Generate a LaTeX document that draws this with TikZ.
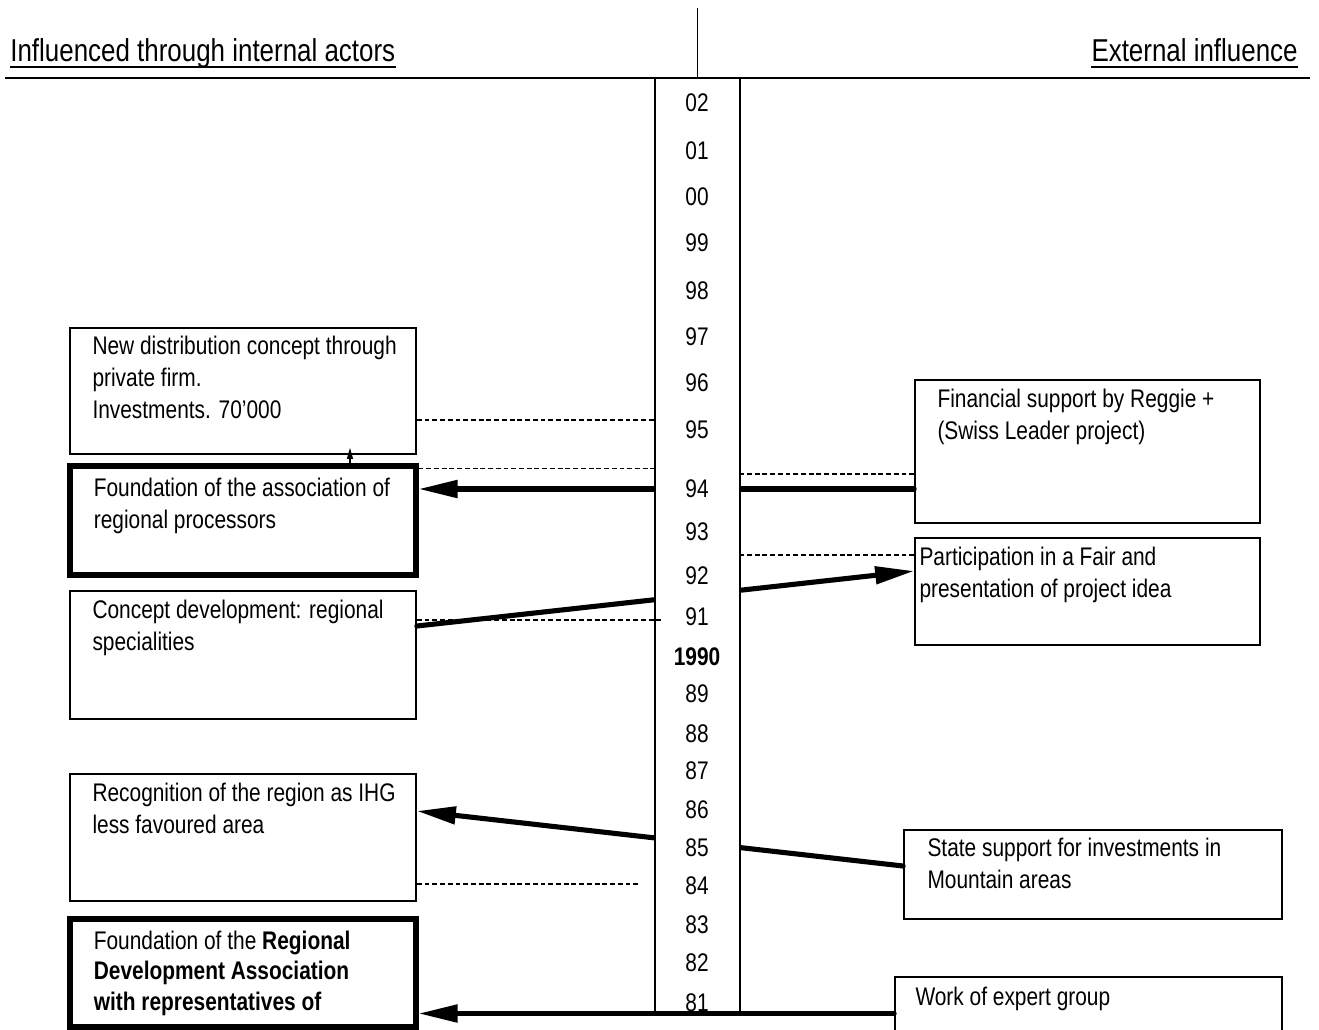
\documentclass[tikz,border=0pt]{standalone}
\usepackage{fontspec}
\setmainfont{Liberation Sans}[FakeStretch=0.82]
\usetikzlibrary{
  arrows.meta,
  positioning,
  backgrounds,  % thick links run behind the time bar
}
\newcommand{\boxfont}{\fontsize{14.5}{18.2}\selectfont}
\newcommand{\headfont}{\fontsize{18}{22}\selectfont}
\def\mythin{1pt}
\def\mythick{2.9pt}
\tikzset{
  >={Triangle[length=0.78cm,width=0.34cm]},
  rule/.style={line width=1.2pt},
  uline/.style={line width=1.3pt},
  head/.style={font=\headfont, inner sep=0pt},
  dims/.style 2 args={minimum width=#1, minimum height=#2},
  event/.style={
    draw,
    line width=\mythin,
    inner sep=0pt,
    rectangle
  },
  event strong/.style={event, line width=\mythick},
  txt/.style={anchor=north west, inner sep=0pt, align=left, font=\boxfont},
  year/.style={font=\boxfont, inner sep=0pt},
  bar/.style={draw, fill=white, line width=\mythin, inner sep=0pt},
  link/.style={line width=\mythick, line cap=round},
  guide/.style={line width=0.8pt, dash pattern=on 2.8pt off 1.6pt},
  small tip/.style={line width=0.6pt, -{Triangle[length=0.22cm,width=0.12cm]}}
}

\begin{document}
\begin{tikzpicture}[x=0.02cm, y=-0.02cm]
\clip (0,0) rectangle (1319,1029);

% headings
\node[head, anchor=base west] (hIn) at (10,61) {Influenced through internal actors};
\node[head, anchor=base east] (hEx) at (1298,61) {External influence};
\draw[uline] ([yshift=-0.12cm]hIn.base west) -- ([yshift=-0.12cm]hIn.base east);
\draw[uline] ([yshift=-0.12cm]hEx.base west) -- ([yshift=-0.12cm]hEx.base east);
\coordinate (ttop) at (697.5,8);
\coordinate (hl) at (5,78);
\coordinate (hr) at (1310,78);
\draw[rule] (hl) -- (hr);

% internal side
\node[event, dims={6.92cm}{2.52cm}] (boxA) at (243,391) {};
\node[event strong, dims={6.92cm}{2.18cm}] (boxB) at (243,520.5) {};
\node[event, dims={6.92cm}{2.56cm}] (boxC) at (243,655) {};
\node[event, dims={6.92cm}{2.54cm}] (boxD) at (243,837.5) {};
\node[event strong, dims={6.92cm}{2.16cm}] (boxE) at (243,973) {};
\node[txt] (tA) at ([xshift=0.46cm,yshift=-0.18cm]boxA.north west)
  {New distribution concept through\\private firm.\\Investments. 70’000};
\node[txt] (tB) at ([xshift=0.52cm,yshift=-0.28cm]boxB.north west)
  {Foundation of the association of\\regional processors};
\node[txt] (tC) at ([xshift=0.46cm,yshift=-0.2cm]boxC.north west)
  {Concept development: regional\\specialities};
\node[txt] (tD) at ([xshift=0.46cm,yshift=-0.2cm]boxD.north west)
  {Recognition of the region as IHG\\less favoured area};
\node[txt, font=\fontsize{14.5}{17.4}\selectfont] (tE) at ([xshift=0.52cm,yshift=-0.28cm]boxE.north west)
  {Foundation of the \textbf{Regional}\\\textbf{Development Association}\\\textbf{with representatives of}};

% external side
\node[event, dims={6.9cm}{2.86cm}] (boxF) at (1087.5,451.5) {};
\node[event, dims={6.9cm}{2.14cm}] (boxG) at (1087.5,591.5) {};
\node[event, dims={7.56cm}{1.78cm}] (boxH) at (1093,874.5) {};
\node[event, dims={7.74cm}{1.46cm}] (boxI) at (1088.5,1013.5) {};
\node[txt] (tF) at ([xshift=0.46cm,yshift=-0.2cm]boxF.north west)
  {Financial support by Reggie +\\(Swiss Leader project)};
\node[txt] (tG) at ([xshift=0.1cm,yshift=-0.2cm]boxG.north west)
  {Participation in a Fair and\\presentation of project idea};
\node[txt] (tH) at ([xshift=0.48cm,yshift=-0.18cm]boxH.north west)
  {State support for investments in\\Mountain areas};
\node[txt] (tI) at ([xshift=0.42cm,yshift=-0.22cm]boxI.north west)
  {Work of expert group};

% time bar
\node[bar, dims={1.7cm}{18.72cm}] (tl) at (697.5,546) {};
\draw[line width=0.8pt] (ttop) -- (tl.north);
\foreach \yr/\ypos in {02/103,01/151,00/197,99/243,98/291,97/337,96/383,95/430,
                       94/489,93/532,92/576,91/617,89/694,88/734,87/771,86/810,
                       85/848,84/886,83/925,82/963,81/1003}
  \node[year] (y\yr) at (697,\ypos) {\yr};
\node[year, font=\boxfont\bfseries] (y1990) at (697,657) {1990};

% thick links behind the bar
\begin{scope}[on background layer]
\draw[link, ->] (boxF.west |- y94) -- (boxB.east |- y94);
\draw[link, ->] ([yshift=0.58cm]boxC.east) -- ([yshift=0.41cm]boxG.west);
\draw[link, ->] ([yshift=0.17cm]boxH.west) -- ([yshift=0.53cm]boxD.east);
\end{scope}
\draw[link, ->] (boxI.west) -- (boxE.east |- boxI.west);
\draw[small tip] ([xshift=2.14cm]boxB.north) -- ([xshift=2.14cm,yshift=0.14cm]boxA.south);

% dashed guides to the years
\draw[guide] ([yshift=-0.58cm]boxA.east) coordinate (gA) -- (gA -| tl.west);
\draw[guide] ([yshift=-0.1cm]boxB.north east) coordinate (gB) -- (gB -| tl.west);
\draw[guide] ([yshift=0.7cm]boxC.east) coordinate (gC) -- ([xshift=0.14cm]gC -| tl.west);
\draw[guide] ([yshift=-0.93cm]boxD.east) coordinate (gD) -- ([xshift=-0.3cm]gD -| tl.west);
\draw[guide] ([yshift=-0.45cm]boxF.west) coordinate (gF) -- (gF -| tl.east);
\draw[guide] ([yshift=-0.36cm]boxG.north west) coordinate (gG) -- (gG -| tl.east);
\end{tikzpicture}
\end{document}
